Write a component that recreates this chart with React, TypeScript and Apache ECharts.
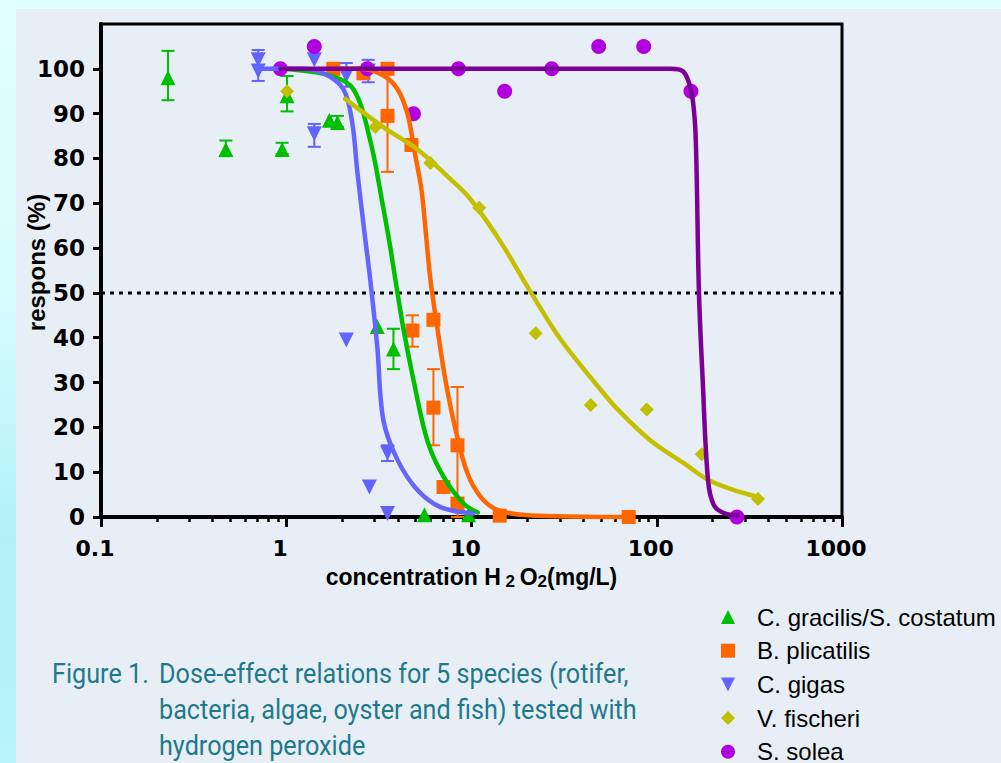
import React, { useEffect, useRef } from "react";
import * as echarts from "echarts";

// ---- data ----
const speciesNames = [
  "C. gracilis/S. costatum",
  "B. plicatilis",
  "C. gigas",
  "V. fischeri",
  "S. solea",
];

// measured points [concentration mg/L, response %]
const gracilisPoints = [
  [0.23, 98], [0.472, 82], [0.95, 82], [1.01, 94], [1.71, 88.5], [1.89, 88],
  [3.1, 42.5], [3.79, 37.5], [5.57, 0.5], [9.64, 0.5],
];
const plicatilisPoints = [
  [1.795, 100], [2.61, 99], [3.52, 100], [3.52, 89.5], [4.74, 83], [4.8, 41.6],
  [6.23, 44], [6.23, 24.4], [7.06, 6.7], [8.4, 16], [8.4, 3], [14.2, 0.3], [70.6, 0],
];
const gigasPoints = [
  [0.706, 102], [0.706, 99.5], [1.417, 102], [1.417, 85.5], [2.11, 98.5],
  [2.77, 99.5], [2.11, 39.5], [3.52, 14.3], [2.81, 6.7], [3.52, 0.8],
];
const fischeriPoints = [
  [1.01, 95], [3.03, 87], [6.0, 79], [11.0, 69], [22.2, 41], [44.0, 25],
  [88.3, 24], [175, 14], [352, 4],
];
const soleaPoints = [
  [0.93, 100], [1.417, 105], [2.74, 100], [4.86, 90], [8.5, 100], [15.1, 95],
  [27.1, 100], [48.6, 105], [85, 105], [153, 95], [271, 0],
];

// error bars [concentration, low, high]
const gracilisErrors = [
  [0.23, 93, 104], [0.472, 80.5, 84], [0.95, 81, 83.5], [1.01, 90.5, 98.4],
  [1.89, 87, 89.5], [3.79, 33, 42],
];
const plicatilisErrors = [
  [3.52, 77, 99], [4.8, 38, 45], [6.23, 16, 33], [8.4, 0, 29],
];
const gigasErrors = [
  [0.706, 97.3, 104.2], [1.417, 82.6, 87.7], [2.11, 96, 101.3],
  [2.77, 97, 102], [3.52, 12.5, 16],
];

// fitted dose-response curves
const gracilisCurve = [
  [0.95, 100], [1.73, 98.5], [2.3, 95.5], [2.84, 84], [3.34, 69], [3.65, 60],
  [3.88, 53], [4.29, 42], [4.86, 30.6], [5.78, 17], [7.06, 9], [9.05, 3], [10.8, 1],
];
const plicatilisCurve = [
  [1.795, 100], [2.51, 100], [3.34, 98.5], [3.98, 95.5], [4.51, 90], [4.98, 80.5],
  [5.37, 73], [5.71, 62], [6.0, 53], [6.55, 42], [7.23, 30.6], [8.2, 19.5],
  [9.5, 9.8], [11.2, 4.5], [13.8, 1.6], [20.1, 0.4], [70.6, 0],
];
const gigasCurve = [
  [0.706, 100], [1.19, 100], [1.585, 99], [2.03, 95.5], [2.27, 88], [2.42, 77],
  [2.67, 62], [2.84, 53], [3.1, 38], [3.34, 21.7], [3.98, 12.8], [5.11, 6],
  [6.8, 2.2], [10.25, 0.8],
];
const fischeriCurve = [
  [2.08, 93.3], [3.34, 87], [5.11, 82], [7.69, 75.4], [9.88, 70.9], [14.3, 61.5],
  [20.8, 50.3], [30.3, 39.6], [49.8, 28.4], [61.5, 24], [92.9, 17], [140, 12],
  [189, 8.3], [261, 6], [352, 4.5],
];
const soleaCurve = [
  [0.93, 100], [119, 100], [138, 99.5], [149, 97], [157, 92.6], [162.5, 84],
  [169, 50], [177, 30.6], [189, 8.3], [203, 2.7], [230, 0.9], [274, 0.4],
];

const referenceLevel = 50;
const xRange = [0.1, 1000];
const yRange = [0, 110];
const majorXTicks = [0.1, 1, 10, 100, 1000];
const minorXTicks = [
  0.2, 0.3, 0.4, 0.5, 0.6, 0.7, 0.8, 0.9,
  2, 3, 4, 5, 6, 7, 8, 9,
  20, 30, 40, 50, 60, 70, 80, 90,
  200, 300, 400, 500, 600, 700, 800, 900,
];
const yTicks = [0, 10, 20, 30, 40, 50, 60, 70, 80, 90, 100];

const captionLines = [
  "Dose-effect relations for 5 species (rotifer,",
  "bacteria, algae, oyster and fish) tested with",
  "hydrogen peroxide",
];
const captionLabel = "Figure 1.";

// ---- styling ----
const pointColors = ["#00BE00", "#FF6600", "#6262FF", "#C2BE00", "#B000E0"];
const curveColors = ["#00BE00", "#FF6600", "#6464FF", "#C4C000", "#7A0096"];
const symbols = ["triangle", "rect", "path://M0,0L10,0L5,10Z", "diamond", "circle"];
const symbolSizes = [15, 14, 15, 14, 15];
const tickFont = "DejaVu Sans";
const textFont = "Liberation Sans";
const captionColor = "#1E7A8B";

function errorSeries(data: number[][], color: string) {
  return {
    type: "custom",
    data,
    encode: { x: 0, y: [1, 2] },
    z: 2,
    silent: true,
    renderItem: (_params: any, api: any) => {
      const x = api.value(0);
      const lo = api.coord([x, api.value(1)]);
      const hi = api.coord([x, api.value(2)]);
      const w = 6.5;
      const style = { stroke: color, lineWidth: 2 };
      return {
        type: "group",
        children: [
          { type: "line", shape: { x1: lo[0], y1: lo[1], x2: hi[0], y2: hi[1] }, style },
          { type: "line", shape: { x1: hi[0] - w, y1: hi[1], x2: hi[0] + w, y2: hi[1] }, style },
          { type: "line", shape: { x1: lo[0] - w, y1: lo[1], x2: lo[0] + w, y2: lo[1] }, style },
        ],
      };
    },
  };
}

function curveSeries(name: string, data: number[][], color: string, z: number) {
  return {
    name,
    type: "line",
    data,
    smooth: 0.35,
    showSymbol: false,
    symbol: "none",
    z,
    silent: true,
    lineStyle: { color, width: 4.5, cap: "round", join: "round" },
  };
}

function pointSeries(i: number, data: number[][]) {
  return {
    name: speciesNames[i],
    type: "scatter",
    data,
    symbol: symbols[i],
    symbolSize: symbolSizes[i],
    itemStyle: { color: pointColors[i], opacity: 1 },
    z: 2,
  };
}

export default function App() {
  const ref = useRef<HTMLDivElement>(null);

  useEffect(() => {
    if (!ref.current) return;
    const chart = echarts.init(ref.current, null, { renderer: "svg" });
    const axisBlack = "#000";

    const option: any = {
      animation: false,
      backgroundColor: "transparent",
      grid: {
        left: 101,
        right: 159,
        top: 24,
        bottom: 246,
        show: true,
        borderColor: axisBlack,
        borderWidth: 3,
        backgroundColor: "transparent",
        containLabel: false,
      },
      legend: {
        orient: "vertical",
        left: 721,
        top: 605,
        height: 200,
        padding: 0,
        itemWidth: 14,
        itemHeight: 14,
        itemGap: 9.7,
        selectedMode: false,
        textStyle: {
          fontFamily: textFont,
          fontSize: 24,
          color: "#000",
          padding: [0, 0, 0, 17],
        },
        data: speciesNames.map((n, i) => ({ name: n, icon: symbols[i] })),
      },
      xAxis: [
        {
          type: "log",
          logBase: 10,
          min: xRange[0],
          max: xRange[1],
          position: "bottom",
          axisLine: { show: true, onZero: false, lineStyle: { color: axisBlack, width: 4 } },
          axisTick: {
            show: true,
            length: 10,
            inside: false,
            customValues: majorXTicks,
            lineStyle: { color: axisBlack, width: 3 },
          },
          axisLabel: {
            show: true,
            customValues: majorXTicks,
            margin: 20,
            fontFamily: tickFont,
            fontWeight: "bold",
            fontSize: 22,
            color: "#000",
            padding: [0, 12, 0, 0],
            formatter: (v: number) => String(v),
          },
          splitLine: { show: false },
          minorTick: { show: false },
          name: "{a|concentration H}{s| 2 }{a|O}{s|2}{a|(mg/L)}",
          nameLocation: "middle",
          nameGap: 46,
          nameMoveOverlap: false,
          nameTextStyle: {
            rich: {
              a: { fontFamily: textFont, fontWeight: "bold", fontSize: 23, color: "#000" },
              s: {
                fontFamily: textFont,
                fontWeight: "bold",
                fontSize: 17,
                color: "#000",
                padding: [10, 0, 0, 0],
              },
            },
          },
        },
        {
          type: "log",
          logBase: 10,
          min: xRange[0],
          max: xRange[1],
          position: "bottom",
          offset: 0,
          axisLine: { show: false },
          axisTick: {
            show: true,
            length: 5,
            inside: false,
            customValues: minorXTicks,
            lineStyle: { color: axisBlack, width: 2.5 },
          },
          axisLabel: { show: false },
          splitLine: { show: false },
        },
      ],
      yAxis: {
        type: "value",
        min: yRange[0],
        max: yRange[1],
        interval: 10,
        axisLine: { show: true, lineStyle: { color: axisBlack, width: 4 } },
        axisTick: {
          show: true,
          length: 8,
          customValues: yTicks,
          lineStyle: { color: axisBlack, width: 3 },
        },
        axisLabel: {
          customValues: yTicks,
          margin: 16,
          fontFamily: tickFont,
          fontWeight: "bold",
          fontSize: 23,
          color: "#000",
        },
        splitLine: { show: false },
        name: "respons (%)",
        nameLocation: "middle",
        nameGap: 53,
        nameMoveOverlap: false,
        nameTextStyle: {
          fontFamily: textFont,
          fontWeight: "bold",
          fontSize: 24,
          color: "#000",
          padding: [0, 0, 0, 16],
        },
      },
      series: [
        {
          name: "reference",
          type: "line",
          data: [[xRange[0], referenceLevel], [xRange[1], referenceLevel]],
          symbol: "none",
          silent: true,
          z: 1,
          lineStyle: { color: "#000", width: 3, type: [4, 5] },
        },
        errorSeries(gracilisErrors, pointColors[0]),
        errorSeries(plicatilisErrors, pointColors[1]),
        errorSeries(gigasErrors, pointColors[2]),
        pointSeries(0, gracilisPoints),
        pointSeries(1, plicatilisPoints),
        pointSeries(2, gigasPoints),
        pointSeries(3, fischeriPoints),
        pointSeries(4, soleaPoints),
        curveSeries("fit B. plicatilis", plicatilisCurve, curveColors[1], 4),
        curveSeries("fit C. gracilis", gracilisCurve, curveColors[0], 5),
        curveSeries("fit C. gigas", gigasCurve, curveColors[2], 6),
        curveSeries("fit V. fischeri", fischeriCurve, curveColors[3], 7),
        curveSeries("fit S. solea", soleaCurve, curveColors[4], 8),
      ],
      graphic: [
        {
          type: "text",
          x: 52,
          y: 674,
          scaleX: 0.9,
          style: {
            text: captionLabel,
            fill: captionColor,
            font: "28px Roboto",
            verticalAlign: "middle",
          },
        },
        ...captionLines.map((t, i) => ({
          type: "text",
          x: 159,
          y: 674 + i * 36,
          scaleX: 0.9,
          style: {
            text: t,
            fill: captionColor,
            font: "28px Roboto",
            verticalAlign: "middle",
          },
        })),
      ],
    };

    chart.setOption(option);
    return () => chart.dispose();
  }, []);

  return (
    <div
      style={{
        position: "fixed",
        left: 0,
        top: 0,
        width: 1001,
        height: 763,
        overflow: "hidden",
        background:
          "linear-gradient(to bottom, #E2FFFF 0%, #D6FCFD 40%, #B0F2F7 70%, #B8F4F8 100%)",
      }}
    >
      <div
        style={{
          position: "absolute",
          left: 16,
          top: 9,
          right: 0,
          bottom: 0,
          background: "#E8EEF6",
        }}
      />
      <div ref={ref} style={{ position: "absolute", left: 0, top: 0, width: 1001, height: 763 }} />
    </div>
  );
}
